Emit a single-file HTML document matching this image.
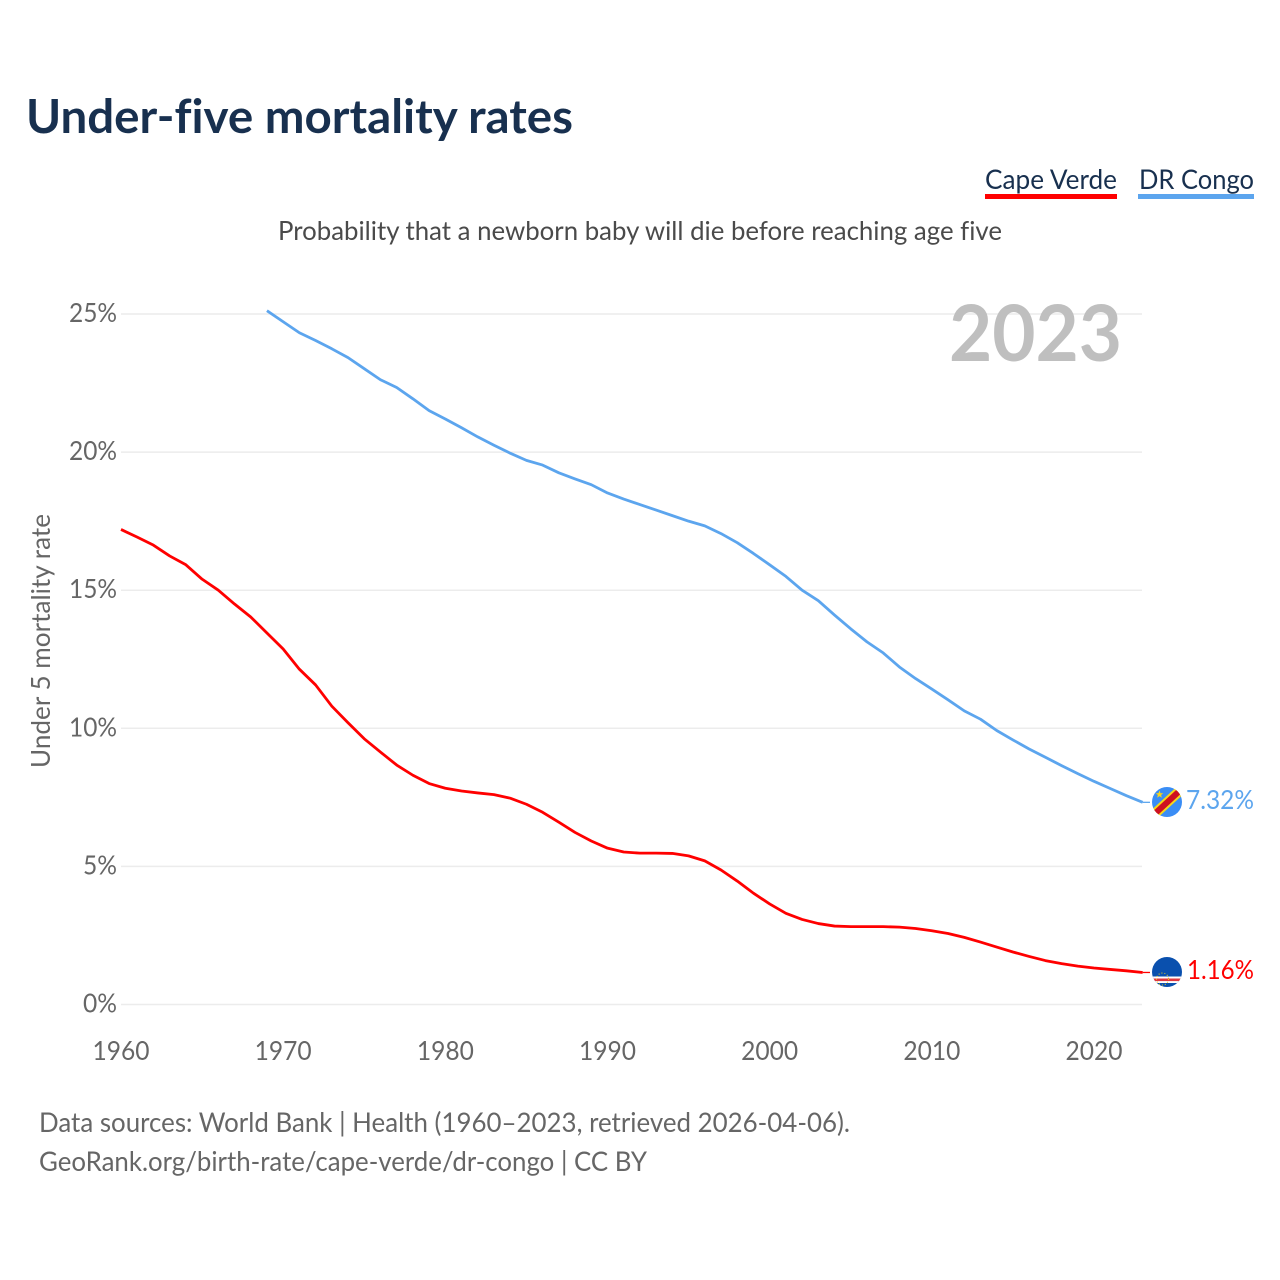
<!DOCTYPE html>
<html lang="en">
<head>
<meta charset="utf-8">
<title>Under-five mortality rates</title>
<style>
html,body{margin:0;padding:0;background:#fff;}
svg{display:block;font-family:"Lato","Carlito","Liberation Sans",sans-serif;font-variant-ligatures:none;}
</style>
</head>
<body>
<svg id="chart" xmlns="http://www.w3.org/2000/svg" width="1280" height="1280" viewBox="0 0 1280 1280">
  <rect width="1280" height="1280" fill="#fff"/>
  <text x="26" y="133" font-size="47" font-weight="700" fill="#18304f" textLength="547" lengthAdjust="spacingAndGlyphs">Under-five mortality rates</text>
  <g>
    <text x="985" y="189" font-size="27" fill="#18304f" textLength="132" lengthAdjust="spacingAndGlyphs">Cape Verde</text>
    <rect x="985" y="194" width="132" height="5" fill="#ff0000"/>
  </g>
  <g>
    <text x="1139" y="189" font-size="27" fill="#18304f" textLength="115" lengthAdjust="spacingAndGlyphs">DR Congo</text>
    <rect x="1138" y="194" width="116" height="5" fill="#5ca5ee"/>
  </g>
  <text x="278" y="240" font-size="26.5" fill="#4a4a4a" textLength="724" lengthAdjust="spacingAndGlyphs">Probability that a newborn baby will die before reaching age five</text>
  <g id="grid"></g>
  <g id="yticks"></g>
  <g id="xticks"></g>
  <text transform="translate(50,768) rotate(-90)" font-size="26" fill="#666" textLength="254" lengthAdjust="spacingAndGlyphs">Under 5 mortality rate</text>
  <text x="1122" y="361" text-anchor="end" font-size="78" font-weight="700" fill="#bfbfbf" textLength="173" lengthAdjust="spacingAndGlyphs">2023</text>
  <g id="series"></g>
  <g>
    <clipPath id="clip-cd"><circle cx="1167" cy="802" r="15"/></clipPath>
    <g clip-path="url(#clip-cd)">
      <rect x="1150" y="785" width="34" height="34" fill="#3a8df5"/>
      <line x1="1148" y1="820" x2="1186" y2="785" stroke="#f7d618" stroke-width="10"/>
      <line x1="1148" y1="820" x2="1186" y2="785" stroke="#ce1021" stroke-width="6"/>
    </g>
    <polygon points="1159.5,790.5 1160.5,793.2 1163.3,793.3 1161.1,795 1161.9,797.7 1159.5,796.1 1157.1,797.7 1157.9,795 1155.7,793.3 1158.5,793.2" fill="#f7d618"/>
  </g>
  <g>
    <clipPath id="clip-cv"><circle cx="1167" cy="972" r="15"/></clipPath>
    <g clip-path="url(#clip-cv)">
      <rect x="1150" y="955" width="34" height="34" fill="#0a50ae"/>
      <rect x="1150" y="976.5" width="34" height="6.5" fill="#fff"/>
      <rect x="1150" y="978.5" width="34" height="2.6" fill="#e0383f"/>
      <circle cx="1162.5" cy="979" r="6" fill="none" stroke="#f7d116" stroke-width="1" stroke-dasharray="1 2"/>
    </g>
  </g>
  <text id="label-cd" x="1186" y="809" font-size="26.5" fill="#5ca5ee" textLength="68" lengthAdjust="spacingAndGlyphs">7.32%</text>
  <text id="label-cv" x="1187" y="979" font-size="26.5" fill="#ff0000" textLength="67" lengthAdjust="spacingAndGlyphs">1.16%</text>
  <text x="39" y="1132" font-size="27" fill="#666" textLength="811" lengthAdjust="spacingAndGlyphs">Data sources: World Bank | Health (1960–2023, retrieved 2026-04-06).</text>
  <text x="39" y="1171" font-size="27" fill="#666" textLength="608" lengthAdjust="spacingAndGlyphs">GeoRank.org/birth-rate/cape-verde/dr-congo | CC BY</text>
</svg>
<script>
const capeVerdeStartYear = 1960;
const capeVerdeValues = [17.2,16.92,16.63,16.24,15.92,15.4,15.0,14.5,14.03,13.45,12.87,12.14,11.57,10.8,10.2,9.62,9.14,8.67,8.3,8.0,7.83,7.73,7.66,7.6,7.47,7.25,6.96,6.6,6.23,5.92,5.66,5.52,5.48,5.48,5.47,5.38,5.2,4.87,4.47,4.03,3.64,3.3,3.08,2.93,2.84,2.82,2.82,2.82,2.8,2.75,2.67,2.57,2.43,2.26,2.08,1.9,1.74,1.59,1.48,1.39,1.32,1.27,1.22,1.16];
const drCongoStartYear = 1969;
const drCongoValues = [25.12,24.72,24.32,24.04,23.74,23.42,23.02,22.62,22.34,21.93,21.5,21.2,20.88,20.55,20.25,19.96,19.7,19.53,19.25,19.03,18.82,18.52,18.3,18.1,17.9,17.7,17.5,17.33,17.05,16.72,16.33,15.92,15.5,15.0,14.62,14.1,13.6,13.13,12.73,12.22,11.8,11.42,11.03,10.63,10.33,9.92,9.58,9.25,8.95,8.65,8.36,8.08,7.82,7.56,7.32];
const yTickValues = [0,5,10,15,20,25];
const xTickYears = [1960,1970,1980,1990,2000,2010,2020];

const NS = 'http://www.w3.org/2000/svg';
function xScale(year){ return 121 + (year - 1960) * (1094 - 121) / 60; }
function yScale(v){ return 1004.5 - v * (1004.5 - 314) / 25; }
function make(tag, attrs, parent){
  const el = document.createElementNS(NS, tag);
  for (const k in attrs) el.setAttribute(k, attrs[k]);
  parent.appendChild(el);
  return el;
}
const grid = document.getElementById('grid');
const yticks = document.getElementById('yticks');
const xticks = document.getElementById('xticks');
const series = document.getElementById('series');

yTickValues.forEach(function(v){
  const line = make('line', {x1:121, x2:1142, y1:yScale(v), y2:yScale(v), stroke:'#ececec', 'stroke-width':1.5}, grid);
  
  
  const t = make('text', {x:117, y:yScale(v)+8, 'text-anchor':'end', 'font-size':26, fill:'#666'}, yticks);
  
  
  t.setAttribute('textLength', String(v).length === 1 ? 34 : 48);
  t.setAttribute('lengthAdjust', 'spacingAndGlyphs');
  t.textContent = v + '%';
});
xTickYears.forEach(function(y){
  const t = make('text', {x:xScale(y), y:1060, 'text-anchor':'middle', 'font-size':26, fill:'#666'}, xticks);
  
  
  t.setAttribute('textLength', 57);
  t.setAttribute('lengthAdjust', 'spacingAndGlyphs');
  t.textContent = y;
});
function drawSeries(values, startYear, color, name){
  const pts = values.map(function(v, i){ return xScale(startYear + i).toFixed(2) + ',' + yScale(v).toFixed(2); });
  const last = yScale(values[values.length - 1]);
  const ext = make('line', {x1:xScale(startYear + values.length - 1), x2:1150, y1:last, y2:last, stroke:color, 'stroke-width':1.3}, series);
  
  
  const p = make('polyline', {points:pts.join(' '), fill:'none', stroke:color, 'stroke-width':2.8, 'stroke-linejoin':'round'}, series);
  
  
}
drawSeries(drCongoValues, drCongoStartYear, '#5ca5ee', 'dr-congo');
drawSeries(capeVerdeValues, capeVerdeStartYear, '#ff0000', 'cape-verde');
</script>
</body>
</html>
